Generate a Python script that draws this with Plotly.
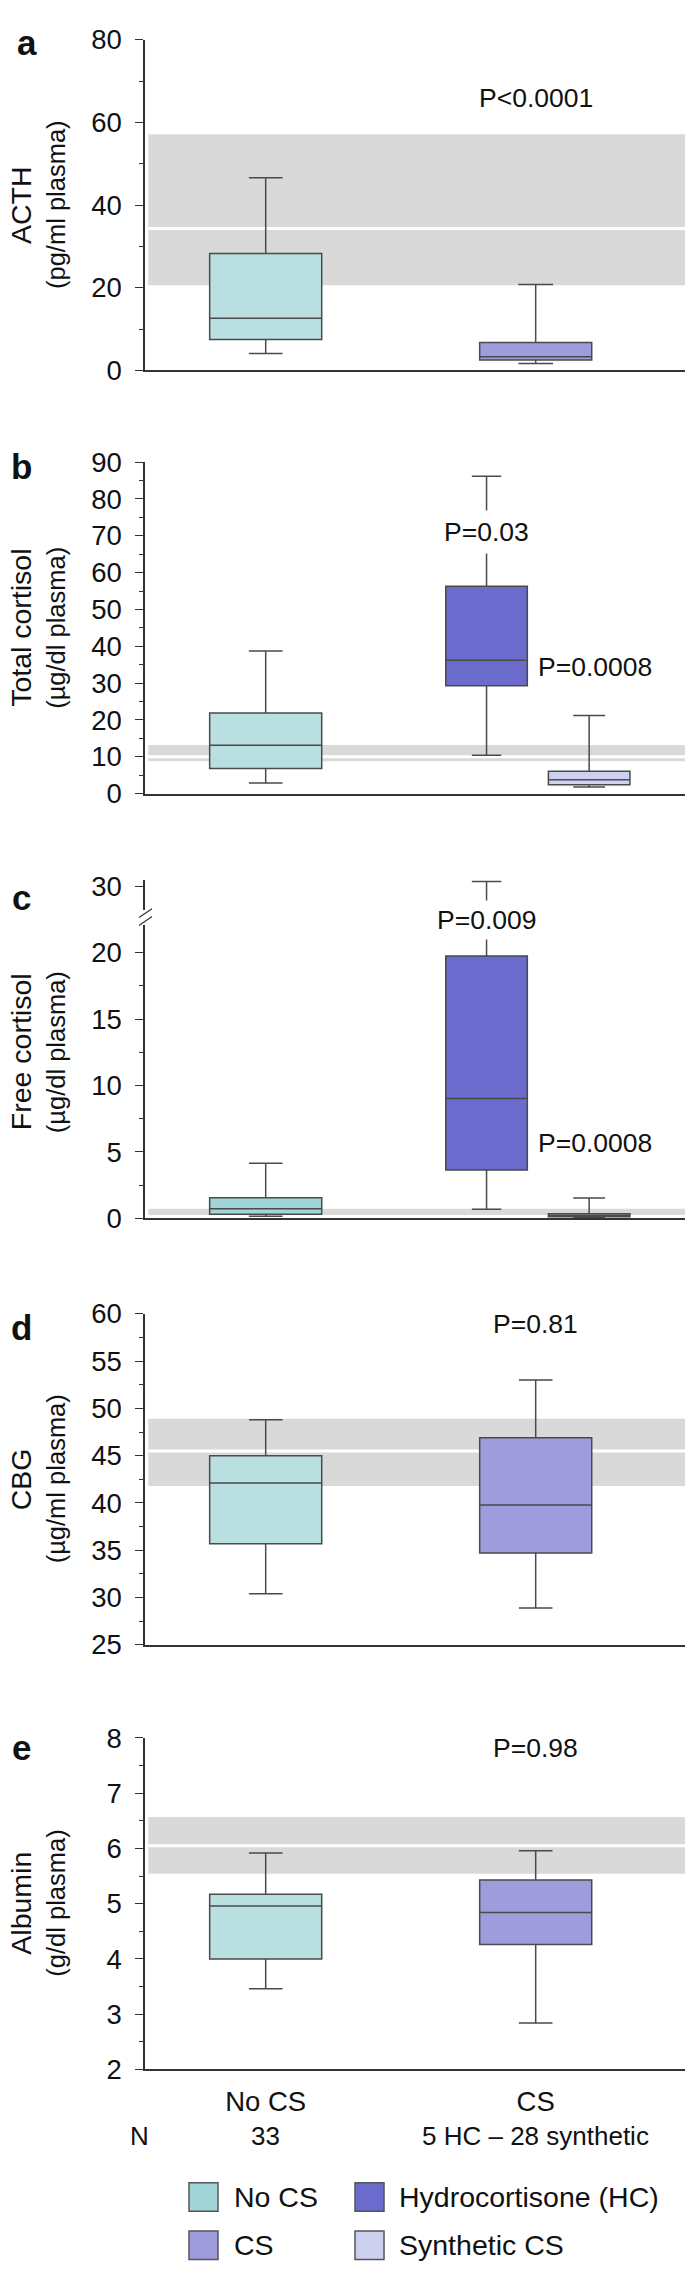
import plotly.graph_objects as go

W, H = 685, 2283
FONT = "Liberation Sans, Arial, sans-serif"
TXT = "#111111"
LINE = "#4a4a4a"
AXC = "#333333"
BAND = "#d9d9d9"

# ---------------- data ----------------
groups = ["No CS", "CS"]
group_n = ["33", "5 HC \u2013 28 synthetic"]

# box stats: [lower whisker, q1, median, q3, upper whisker]
acth_nocs = [4.1, 7.5, 12.6, 28.3, 46.6]
acth_cs = [1.7, 2.5, 3.3, 6.75, 20.8]
acth_ref = [20.6, 34.3, 57.1]          # low, mid, high of reference band

tcort_nocs = [2.9, 6.8, 13.1, 21.9, 38.7]
tcort_hc = [10.4, 29.3, 36.2, 56.3, 86.2]
tcort_syn = [1.8, 2.4, 3.75, 6.05, 21.2]
tcort_ref = [8.8, 10.0, 13.2]

fcort_nocs = [0.17, 0.32, 0.72, 1.56, 4.16]
fcort_hc = [0.69, 3.64, 9.03, 19.75, 30.35]
fcort_syn = [0.02, 0.12, 0.22, 0.35, 1.54]
fcort_ref = [0.26, None, 0.72]

cbg_nocs = [30.4, 35.7, 42.1, 45.0, 48.8]
cbg_cs = [28.9, 34.7, 39.8, 46.9, 53.0]
cbg_ref = [41.8, 45.5, 48.9]

alb_nocs = [3.46, 4.0, 4.96, 5.17, 5.92]
alb_cs = [2.84, 4.26, 4.84, 5.43, 5.96]
alb_ref = [5.54, 6.05, 6.57]

p_acth = "P<0.0001"
p_tcort = ["P=0.03", "P=0.0008"]
p_fcort = ["P=0.009", "P=0.0008"]
p_cbg = "P=0.81"
p_alb = "P=0.98"

legend_labels = ["No CS", "Hydrocortisone (HC)", "CS", "Synthetic CS"]

# ---------------- styling ----------------
C_NOCS = "#b9dfe1"
C_NOCS_C = "#a2d5d7"
C_CS = "#9e9cdc"
C_HC = "#6b6bcd"
C_SYN = "#cdd0ee"
legend_colors = [C_NOCS_C, C_HC, C_CS, C_SYN]

TICK_FS = 27.5
P_FS = 26.5
T1_FS = 28.5
T2_FS = 25.5
XL_FS = 27.5
N_FS = 26
LEG_FS = 28.5
LET_FS = 35

pos = {"No CS": 1.0, "CS": 2.0}
HC_OFF, SYN_OFF = -0.182, 0.198
XR = [0.553, 2.553]
BIGW, SMALLW = 0.415, 0.302


def py(p):
    return 1 - p / H


def pxx(p):
    return p / W


XDOM = [145 / W, 1.0]

fig = go.Figure()


def add_box(stats, x, width, ww, color, n):
    lo, q1, med, q3, hi = stats
    fig.add_trace(go.Box(
        x=[x], lowerfence=[lo], q1=[q1], median=[med], q3=[q3], upperfence=[hi],
        width=width, whiskerwidth=ww, fillcolor=color,
        line=dict(color=LINE, width=1.5), boxpoints=False,
        showlegend=False, hoverinfo="skip",
        xaxis="x" if n == 1 else f"x{n}", yaxis="y" if n == 1 else f"y{n}"))


def yaxis_cfg(top_px, bot_px, rng, dtick, minor, tickvals=None):
    d = dict(domain=[py(bot_px), py(top_px)], range=rng, showline=True,
             linecolor=AXC, linewidth=1.5, ticks="outside", ticklen=8, tickwidth=1,
             tickcolor=AXC, showgrid=False, zeroline=False,
             tickfont=dict(size=TICK_FS, color=TXT, family=FONT),
             ticklabelstandoff=8)
    if tickvals is not None:
        d["tickvals"] = tickvals
    else:
        d["dtick"] = dtick
        d["tick0"] = 0
    if minor:
        d["minor"] = dict(dtick=minor, ticks="outside", ticklen=4, tickcolor=AXC,
                          tickwidth=1, showgrid=False)
    return d


def xaxis_cfg(anchor, showline=True, labels=False):
    d = dict(domain=XDOM, range=XR, anchor=anchor, showline=showline,
             linecolor=AXC, linewidth=1.5, ticks="", showgrid=False,
             zeroline=False, showticklabels=labels, visible=showline or labels)
    if labels:
        d.update(tickvals=[pos[g] for g in groups], ticktext=groups,
                 tickfont=dict(size=XL_FS, color=TXT, family=FONT), ticklabelstandoff=7)
    return d


# pixel extents of each panel's y axis
PA = (25, 360.3)
PB = (453.3, 789.3)
PC_BOT = (923, 1220)
PC_TOP = (877, 907)
PD = (1316.7, 1652.3)
PE = (1746.7, 2082.7)

layout = dict(
    xaxis=xaxis_cfg("y"), yaxis=yaxis_cfg(*PA, [0, 80], 20, 10),
    xaxis2=xaxis_cfg("y2"), yaxis2=yaxis_cfg(*PB, [0, 90], 10, 5),
    xaxis3=xaxis_cfg("y3"), yaxis3=yaxis_cfg(*PC_BOT, [0, 22.05], 5, 2.5),
    xaxis4=xaxis_cfg("y4", showline=False), yaxis4=yaxis_cfg(*PC_TOP, [28.22, 30.45], None, None, tickvals=[30]),
    xaxis5=xaxis_cfg("y5"), yaxis5=yaxis_cfg(*PD, [25, 60], 5, 2.5),
    xaxis6=xaxis_cfg("y6", labels=True), yaxis6=yaxis_cfg(*PE, [2, 8], 1, 0.5),
)

# panel a
add_box(acth_nocs, pos["No CS"], BIGW, 0.3, C_NOCS, 1)
add_box(acth_cs, pos["CS"], BIGW, 0.31, C_CS, 1)
# panel b
add_box(tcort_nocs, pos["No CS"], BIGW, 0.3, C_NOCS, 2)
add_box(tcort_hc, pos["CS"] + HC_OFF, SMALLW, 0.36, C_HC, 2)
add_box(tcort_syn, pos["CS"] + SYN_OFF, SMALLW, 0.39, C_SYN, 2)
# panel c (broken axis: bottom + top segment)
add_box(fcort_nocs, pos["No CS"], BIGW, 0.3, C_NOCS_C, 3)
add_box(fcort_hc, pos["CS"] + HC_OFF, SMALLW, 0.36, C_HC, 3)
add_box(fcort_syn, pos["CS"] + SYN_OFF, SMALLW, 0.39, C_SYN, 3)
add_box(fcort_hc, pos["CS"] + HC_OFF, SMALLW, 0.36, C_HC, 4)
# panel d
add_box(cbg_nocs, pos["No CS"], BIGW, 0.3, C_NOCS, 5)
add_box(cbg_cs, pos["CS"], BIGW, 0.3, C_CS, 5)
# panel e
add_box(alb_nocs, pos["No CS"], BIGW, 0.3, C_NOCS, 6)
add_box(alb_cs, pos["CS"], BIGW, 0.3, C_CS, 6)

shapes = []
for ref, n in [(acth_ref, 1), (tcort_ref, 2), (fcort_ref, 3), (cbg_ref, 5), (alb_ref, 6)]:
    xa = "x" if n == 1 else f"x{n}"
    ya = "y" if n == 1 else f"y{n}"
    lo, mid, hi = ref
    shapes.append(dict(type="rect", xref=f"{xa} domain", yref=ya, x0=0.006, x1=1,
                       y0=lo, y1=hi, fillcolor=BAND, line=dict(width=0), layer="below"))
    if mid is not None:
        shapes.append(dict(type="line", xref=f"{xa} domain", yref=ya, x0=0.006, x1=1,
                           y0=mid, y1=mid, line=dict(color="white", width=3), layer="below"))

# axis break marks on panel c
for dy in (0, 8):
    shapes.append(dict(type="line", xref="paper", yref="paper",
                       x0=pxx(139), x1=pxx(152), y0=py(915 + dy), y1=py(906 + dy),
                       line=dict(color=AXC, width=1.2)))

ann = []


def txt(x, y, s, size, xref="paper", yref="paper", **kw):
    d = dict(x=x, y=y, xref=xref, yref=yref, text=s, showarrow=False,
             xanchor="center", yanchor="middle",
             font=dict(size=size, color=TXT, family=kw.pop("family", FONT)))
    d.update(kw)
    ann.append(d)


# P values
txt(pos["CS"], 65.9, p_acth, P_FS, "x", "y")
txt(pos["CS"] + HC_OFF, 71, p_tcort[0], P_FS, "x2", "y2", bgcolor="white", borderpad=6)
txt(2.22, 34.4, p_tcort[1], P_FS, "x2", "y2")
txt(pos["CS"] + HC_OFF, py(917), p_fcort[0], P_FS, "x3", "paper", bgcolor="white", borderpad=4)
txt(2.22, 5.69, p_fcort[1], P_FS, "x3", "y3")
txt(pos["CS"], 58.96, p_cbg, P_FS, "x5", "y5")
txt(pos["CS"], 7.82, p_alb, P_FS, "x6", "y6")

# panel letters (centre of text box, baseline - 0.35*size)
for letter, xc, base in [("a", 27, 40), ("b", 21, 470), ("c", 21, 907), ("d", 21, 1343), ("e", 21, 1769)]:
    txt(pxx(xc), py(base - 0.35 * LET_FS), f"<b>{letter}</b>", LET_FS)

# y axis titles
titles = [("ACTH", "(pg/ml plasma)", (25 + 360.3) / 2),
          ("Total cortisol", "(\u00b5g/dl plasma)", (453.3 + 789.3) / 2),
          ("Free cortisol", "(\u00b5g/dl plasma)", (883 + 1220) / 2),
          ("CBG", "(\u00b5g/ml plasma)", (1316.7 + 1652.3) / 2),
          ("Albumin", "(g/dl plasma)", (1746.7 + 2082.7) / 2)]
for t1, t2, yc in titles:
    txt(pxx(21), py(yc), t1, T1_FS, textangle=-90)
    txt(pxx(56), py(yc), t2, T2_FS, textangle=-90)

# N row
txt(pxx(139), py(2150), "N", N_FS)
for g, nlab in zip(groups, group_n):
    txt(pos[g], py(2150), nlab, N_FS, "x6", "paper")

# manual legend (2 columns x 2 rows)
sw_x = [189, 355]
tx_x = [232, 397]
row_y = [2212, 2261]
for i, (lab, col) in enumerate(zip(legend_labels, legend_colors)):
    r, c = divmod(i, 2)
    shapes.append(dict(type="rect", xref="paper", yref="paper",
                       x0=pxx(sw_x[c]), x1=pxx(sw_x[c] + 29),
                       y0=py(row_y[r] + 14.5), y1=py(row_y[r] - 14.5),
                       fillcolor=col, line=dict(color="#555555", width=1.5)))
    txt(pxx(tx_x[c]), py(row_y[r]), lab, LEG_FS, xanchor="left")

fig.update_layout(**layout)
fig.update_layout(
    width=W, height=H, margin=dict(l=0, r=0, t=0, b=0),
    paper_bgcolor="white", plot_bgcolor="white",
    font=dict(family=FONT, color=TXT), showlegend=False,
    shapes=shapes, annotations=ann,
)

fig.write_html("out.html", config={"displayModeBar": False},
               post_script="document.body.style.margin='0px';")
